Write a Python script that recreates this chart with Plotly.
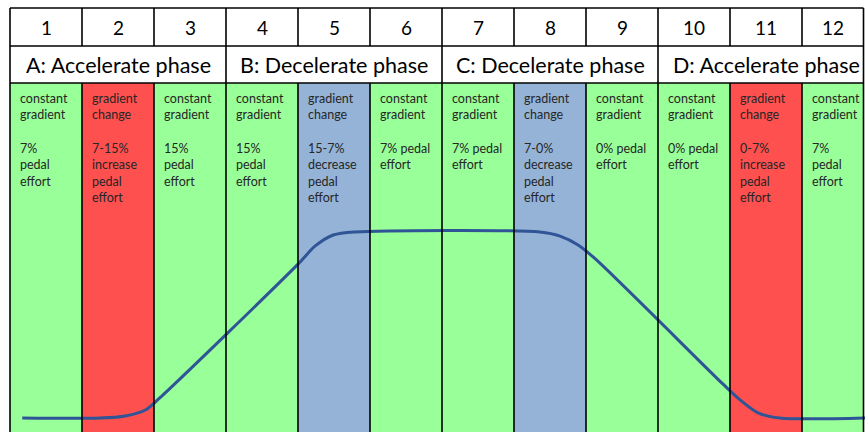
import plotly.graph_objects as go

# ---- data ----
col_numbers = ["1", "2", "3", "4", "5", "6", "7", "8", "9", "10", "11", "12"]
phase_labels = ["A: Accelerate phase", "B: Decelerate phase",
                "C: Decelerate phase", "D: Accelerate phase"]
col_kind = ["const", "accel", "const", "const", "decel", "const",
            "const", "decel", "const", "const", "accel", "const"]
col_head = ["constant<br>gradient", "gradient<br>change", "constant<br>gradient",
            "constant<br>gradient", "gradient<br>change", "constant<br>gradient",
            "constant<br>gradient", "gradient<br>change", "constant<br>gradient",
            "constant<br>gradient", "gradient<br>change", "constant<br>gradient"]
col_effort = ["7%<br>pedal<br>effort", "7-15%<br>increase<br>pedal<br>effort",
              "15%<br>pedal<br>effort", "15%<br>pedal<br>effort",
              "15-7%<br>decrease<br>pedal<br>effort", "7% pedal<br>effort",
              "7% pedal<br>effort", "7-0%<br>decrease<br>pedal<br>effort",
              "0% pedal<br>effort", "0% pedal<br>effort",
              "0-7%<br>increase<br>pedal<br>effort", "7%<br>pedal<br>effort"]

# profile curve (x in column units, level 0 = low, 1 = high)
curve_x = [0.17, 1.25, 1.60, 1.88, 2.08, 3.99, 4.24, 4.49, 4.79,
           7.36, 7.64, 7.89, 8.13, 9.90, 10.14, 10.39, 10.69, 11.88]
curve_y = [0.0, 0.0, 0.011, 0.043, 0.108, 0.823, 0.925, 0.984, 1.0,
           1.0, 0.978, 0.930, 0.855, 0.183, 0.097, 0.027, 0.0, 0.0]

# ---- style / layout ----
W, H = 865, 432
LEFT_PX = 10
COL_PX = 72
RIGHT_PX = 863.5
ROW_TOP, ROW1_BOT, ROW2_BOT = 8, 46, 83
LOW_PX, HIGH_PX = 418, 232

kind_color = {"const": "#99FF99", "accel": "#FF5050", "decel": "#95B3D7"}


def px2x(px):
    return (px - LEFT_PX) / COL_PX


def py2paper(py):
    return 1 - py / H


x_range = [px2x(0), px2x(W)]
unit = LOW_PX - HIGH_PX
y_range = [(LOW_PX - H) / unit, LOW_PX / unit]
x_right = px2x(RIGHT_PX)

shapes = []
for i, k in enumerate(col_kind):
    shapes.append(dict(type="rect", xref="x", yref="paper",
                       x0=i, x1=min(i + 1, x_right), y0=0, y1=py2paper(ROW2_BOT),
                       fillcolor=kind_color[k], line=dict(width=0), layer="below"))

line_style = dict(color="black", width=1.6)
for py in [ROW_TOP, ROW1_BOT, ROW2_BOT]:
    shapes.append(dict(type="line", xref="x", yref="paper", x0=0, x1=x_right,
                       y0=py2paper(py), y1=py2paper(py), line=line_style))
for b in range(0, 12):
    if b % 3 == 0:
        shapes.append(dict(type="line", xref="x", yref="paper", x0=b, x1=b,
                           y0=0, y1=py2paper(ROW_TOP), line=line_style))
    else:
        shapes.append(dict(type="line", xref="x", yref="paper", x0=b, x1=b,
                           y0=py2paper(ROW_TOP), y1=py2paper(ROW1_BOT), line=line_style))
        shapes.append(dict(type="line", xref="x", yref="paper", x0=b, x1=b,
                           y0=0, y1=py2paper(ROW2_BOT), line=line_style))
shapes.append(dict(type="line", xref="x", yref="paper", x0=x_right, x1=x_right,
                   y0=0, y1=py2paper(ROW_TOP), line=line_style))

annotations = []
for i, n in enumerate(col_numbers):
    cx = i + 0.5 if i < 11 else (11 + x_right) / 2
    annotations.append(dict(x=cx, y=py2paper((ROW_TOP + ROW1_BOT) / 2),
                            xref="x", yref="paper", text=n, showarrow=False,
                            xanchor="center", yanchor="middle",
                            font=dict(family="Lato", size=19, color="black")))
for j, p in enumerate(phase_labels):
    annotations.append(dict(x=3 * j + 1.5, y=py2paper((ROW1_BOT + ROW2_BOT) / 2 + 1),
                            xref="x", yref="paper", text=p, showarrow=False,
                            xanchor="center", yanchor="middle",
                            font=dict(family="Lato", size=21.5, color="black")))
txt_font = dict(family="Lato", size=12.5, color="#262626")
for i in range(12):
    annotations.append(dict(x=i + 0.11, y=py2paper(89), xref="x", yref="paper",
                            text=col_head[i], showarrow=False, align="left",
                            xanchor="left", yanchor="top", font=txt_font))
    annotations.append(dict(x=i + 0.11, y=py2paper(139), xref="x", yref="paper",
                            text=col_effort[i], showarrow=False, align="left",
                            xanchor="left", yanchor="top", font=txt_font))

fig = go.Figure()
fig.add_trace(go.Scatter(x=curve_x, y=curve_y, mode="lines",
                         line=dict(color="#2F5597", width=3, shape="spline", smoothing=0.8),
                         hoverinfo="skip", showlegend=False))

fig.update_layout(
    width=W, height=H,
    margin=dict(l=0, r=0, t=0, b=0),
    paper_bgcolor="white", plot_bgcolor="white",
    xaxis=dict(range=x_range, visible=False, fixedrange=True),
    yaxis=dict(range=y_range, visible=False, fixedrange=True),
    shapes=shapes, annotations=annotations,
    showlegend=False,
)

fig.write_html(
    "out.html",
    config={"displayModeBar": False},
    post_script="document.body.style.margin='0';"
                "document.body.style.overflow='hidden';"
                "document.documentElement.style.overflow='hidden';",
)
